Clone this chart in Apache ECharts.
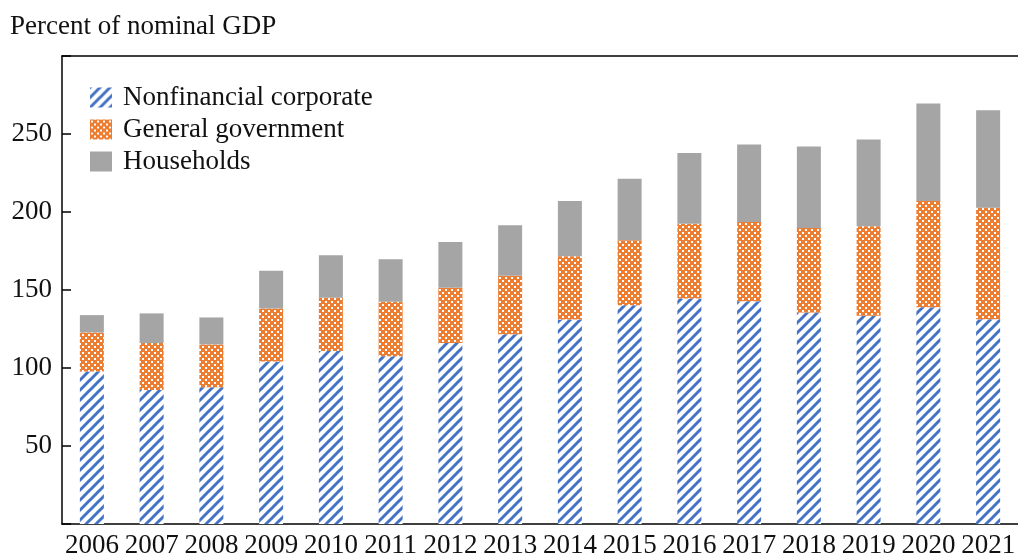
<!DOCTYPE html>
<html>
<head>
<meta charset="utf-8">
<script src="https://cdn.jsdelivr.net/npm/echarts@6/dist/echarts.min.js"></script>
<style>
html,body{margin:0;padding:0;background:#fff;}
#chart{width:1018px;height:559px;}
</style>
</head>
<body>
<div id="chart"></div>
<script>
var categories = ['2006','2007','2008','2009','2010','2011','2012','2013','2014','2015','2016','2017','2018','2019','2020','2021'];
var nonfinancial = [97.7, 85.9, 87.6, 104.1, 110.9, 107.5, 116.0, 121.7, 131.1, 140.3, 144.6, 142.8, 135.6, 133.5, 139.0, 131.3];
var government = [25.1, 30.1, 27.5, 34.1, 34.1, 35.0, 35.4, 37.4, 40.5, 41.6, 47.9, 50.8, 54.2, 57.3, 68.1, 71.5];
var households = [11.1, 19.0, 17.3, 24.1, 27.3, 27.2, 29.4, 32.4, 35.5, 39.4, 45.3, 49.7, 52.2, 55.7, 62.4, 62.5];
var seriesNames = ['Nonfinancial corporate', 'General government', 'Households'];
var yTicks = [50, 100, 150, 200, 250];

function stripeTile() {
  var c = document.createElement('canvas');
  var s = 10;
  c.width = s; c.height = s;
  var g = c.getContext('2d');
  g.fillStyle = '#ffffff';
  g.fillRect(0, 0, s, s);
  g.strokeStyle = '#4472C4';
  g.lineWidth = 3;
  g.lineCap = 'square';
  [[-s, 0], [0, 0], [s, 0]].forEach(function (o) {
    g.beginPath();
    g.moveTo(o[0], s);
    g.lineTo(o[0] + s, 0);
    g.stroke();
  });
  return c;
}
function checkTile() {
  var c = document.createElement('canvas');
  var s = 6;
  c.width = s; c.height = s;
  var g = c.getContext('2d');
  g.fillStyle = '#ED7D31';
  g.fillRect(0, 0, s, s);
  g.fillStyle = '#ffffff';
  g.fillRect(1, 1, 2, 2);
  g.fillRect(4, 4, 2, 2);
  return c;
}

var font = "'Liberation Serif', 'Times New Roman', serif";
var chart = echarts.init(document.getElementById('chart'), null, {renderer: 'canvas'});
var mk = function (name, data, color) {
  return {
    name: name, type: 'bar', stack: 'total', data: data,
    barWidth: 24,
    itemStyle: {color: color},
    emphasis: {disabled: true}
  };
};
chart.setOption({
  animation: false,
  backgroundColor: '#ffffff',
  title: {
    text: 'Percent of nominal GDP', left: 5, top: 8,
    textStyle: {fontFamily: font, fontSize: 27, fontWeight: 'normal', color: '#111'}
  },
  legend: {
    orient: 'vertical', left: 85, top: 79,
    icon: 'rect',
    itemWidth: 22, itemHeight: 20, itemGap: 5,
    data: seriesNames,
    textStyle: {fontFamily: font, fontSize: 27, color: '#111', padding: [0, 0, 0, 6]}
  },
  grid: {left: 62, top: 56, width: 963, height: 470, containLabel: false},
  xAxis: [{
    type: 'category', data: categories, position: 'bottom',
    axisLine: {lineStyle: {color: '#000', width: 1.5}},
    axisTick: {show: false},
    axisLabel: {fontFamily: font, fontSize: 27, color: '#111', margin: 8, interval: 0}
  }, {
    type: 'category', data: categories, position: 'top',
    axisLine: {show: true, lineStyle: {color: '#000', width: 1.5}},
    axisTick: {show: false}, axisLabel: {show: false}
  }],
  yAxis: {
    type: 'value', min: 0, max: 300, interval: 50,
    axisLine: {show: true, lineStyle: {color: '#000', width: 1.5}},
    axisTick: {show: true, inside: true, length: 9, lineStyle: {color: '#000', width: 1.5}},
    splitLine: {show: false},
    axisLabel: {
      fontFamily: font, fontSize: 27, color: '#111', margin: 10,
      formatter: function (v) { return yTicks.indexOf(v) >= 0 ? String(v) : ''; }
    }
  },
  series: [
    mk(seriesNames[0], nonfinancial, {image: stripeTile(), repeat: 'repeat'}),
    mk(seriesNames[1], government, {image: checkTile(), repeat: 'repeat'}),
    mk(seriesNames[2], households, '#A5A5A5')
  ]
});
</script>
</body>
</html>
